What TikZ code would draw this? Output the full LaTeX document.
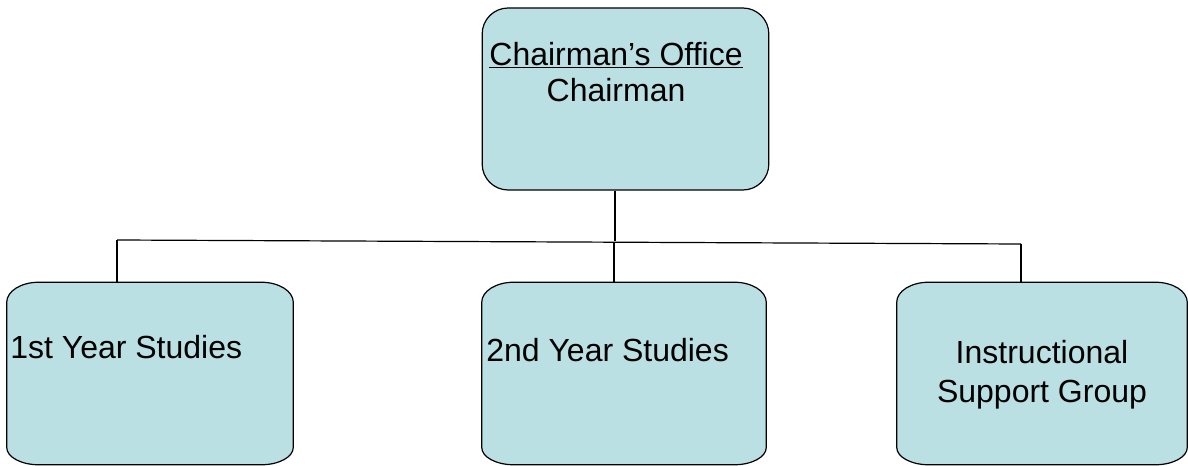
\documentclass[tikz,border=0pt]{standalone}
\usepackage{fontspec}
\setmainfont{Liberation Sans}
\usepackage{xcolor}
\usepackage{tikz}
\usetikzlibrary{arrows.meta,positioning,calc}
\definecolor{boxblue}{RGB}{187,224,227}
\tikzset{
  chairbox/.style={rectangle,draw,fill=boxblue,line width=.9pt,rounded corners=19.5pt,
    inner sep=0pt,minimum width=215pt,minimum height=136.5pt},
  unitbox/.style={rectangle,inner sep=0pt,minimum height=136.5pt},
  unitshape/.style={draw,fill=boxblue,line width=.9pt},
  olink/.style={line width=.9pt},
  olabel/.style={inner sep=0pt,font=\fontsize{24pt}{27pt}\selectfont}
}

\begin{document}
\begin{tikzpicture}[x=0.75pt,y=-0.75pt]
  \useasboundingbox (0,0) rectangle (1188,466);
  % boxes
  \node[chairbox] (chair) at (625.5,99) {};
  \node[unitbox,minimum width=214.5pt] (yr1) at (150,373.5) {};
  \node[unitbox,minimum width=213pt] (yr2) at (624,373.5) {};
  \node[unitbox,minimum width=217.5pt] (isg) at (1042,373.5) {};
  \foreach \b in {yr1,yr2,isg}
    \draw[unitshape] ([yshift=-15pt]\b.north west)
      arc[start angle=180,end angle=90,x radius=24pt,y radius=15pt]
      -- ([xshift=-24pt]\b.north east)
      arc[start angle=90,end angle=0,x radius=24pt,y radius=15pt]
      -- ([yshift=13pt]\b.south east)
      arc[start angle=0,end angle=-90,x radius=24pt,y radius=13pt]
      -- ([xshift=24pt]\b.south west)
      arc[start angle=270,end angle=180,x radius=24pt,y radius=13pt]
      -- cycle;
  % connectors
  \coordinate (stem) at (615,241.5);
  \coordinate (busL) at (117,240);
  \coordinate (busR) at (1021,244);
  \coordinate (busM) at (614,242);
  \draw[olink] (stem |- chair.south) -- (stem);
  \draw[olink] (busL) -- (busR);
  \draw[olink] (busL) -- (busL |- yr1.north);
  \draw[olink] (busM) -- (busM |- yr2.north);
  \draw[olink] (busR) -- (busR |- isg.north);
  % texts
  \node[olabel,align=center] (chairtxt) at (616,72) {\underline{Chairman’s Office}\\Chairman};
  \node[olabel,anchor=west] (yr1txt) at (10,347) {1st Year Studies};
  \node[olabel,anchor=west] (yr2txt) at (486,350) {2nd Year Studies};
  \node[olabel,align=center,font=\fontsize{24pt}{29.5pt}\selectfont] (isgtxt) at (1042,375) {Instructional\\Support Group};
\end{tikzpicture}
\end{document}
